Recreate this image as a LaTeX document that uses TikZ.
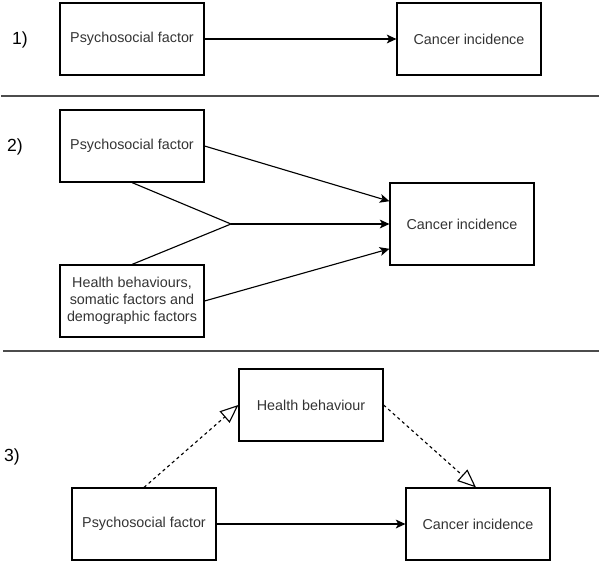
\documentclass[tikz,border=0pt]{standalone}
\usepackage{fontspec}
\setmainfont{Liberation Sans}
\usetikzlibrary{arrows.meta}
\usetikzlibrary{calc}

\tikzset{
	box/.style={draw, line width=0.8pt, minimum width=3.6cm, minimum height=1.8cm, inner sep=2pt, align=center, font=\fontsize{10.2}{12.2}\selectfont, text=black!80},
	tag/.style={font=\fontsize{12.5}{14}\selectfont},
	link/.style={line width=0.8pt, -{Stealth[length=2.4mm, width=2.2mm, inset=0.6mm]}},
	plain/.style={line width=0.8pt},
	mediate/.style={line width=0.8pt, dash pattern=on 2.2pt off 2.2pt, -{Triangle[open, length=4.6mm, width=3.8mm]}},
	rule/.style={line width=0.8pt, black!70}
}

\begin{document}
\begin{tikzpicture}[x=0.025cm, y=-0.025cm]
	\useasboundingbox (0,0) rectangle (600,562);

	\node[tag] (one) at (20,40) {1)};
	\node[box] (psyA) at (132,39) {Psychosocial factor};
	\node[box] (cancA) at (469,39) {Cancer incidence};
	\draw[link] (psyA) -- (cancA);

	\coordinate (ruleAl) at (1,96);
	\coordinate (ruleAr) at (599,96);
	\draw[rule] (ruleAl) -- (ruleAr);

	\node[tag] (two) at (15,147) {2)};
	\node[box] (psyB) at (132,146) {Psychosocial factor};
	\node[box, minimum height=2.05cm] (cancB) at (462,224) {Cancer incidence};
	\node[box] (healthB) at (132,301) {Health behaviours,\\ somatic factors and\\ demographic factors};
	\coordinate (join) at (231,224);
	\draw[plain] (psyB.south) -- (join);
	\draw[plain] (healthB.north) -- (join);
	\draw[link] (join) -- (cancB.west);
	\draw[link] (psyB.east) -- ([yshift=0.57cm]cancB.west);
	\draw[link] (healthB.east) -- ([yshift=-0.62cm]cancB.west);

	\coordinate (ruleBl) at (3,351);
	\coordinate (ruleBr) at (599,351);
	\draw[rule] (ruleBl) -- (ruleBr);

	\node[tag] (three) at (12,457) {3)};
	\node[box] (healthC) at (311,405) {Health behaviour};
	\node[box] (psyC) at (144,524) {Psychosocial factor};
	\node[box] (cancC) at (478,524) {Cancer incidence};
	\draw[link] (psyC) -- (cancC);
	\draw[mediate] (psyC.north) -- (healthC.west);
	\draw[mediate] (healthC.east) -- ([xshift=-0.05cm]cancC.north);
\end{tikzpicture}
\end{document}
